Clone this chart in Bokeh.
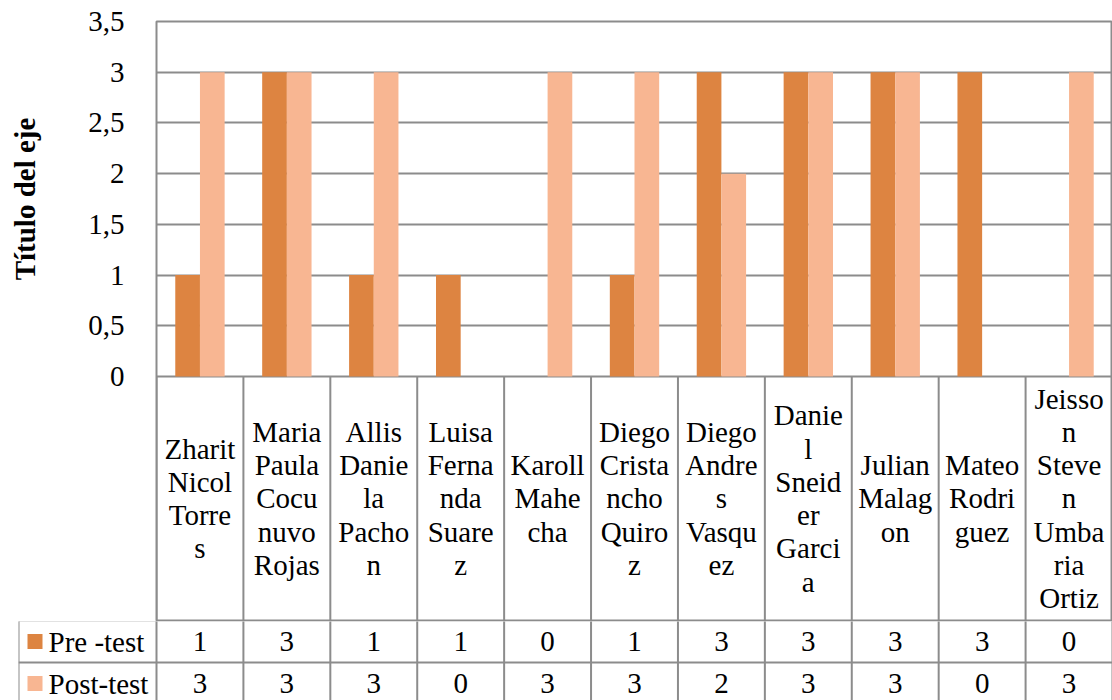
import math
from bokeh.plotting import figure
from bokeh.layouts import column, row
from bokeh.models import ColumnDataSource, FactorRange, Range1d, FixedTicker
from bokeh.transform import dodge
from bokeh.core.properties import value
from bokeh.embed import file_html
from bokeh.resources import INLINE

# ---------------- data ----------------
labels = [
    "Zharit\nNicol\nTorre\ns",
    "Maria\nPaula\nCocu\nnuvo\nRojas",
    "Allis\nDanie\nla\nPacho\nn",
    "Luisa\nFerna\nnda\nSuare\nz",
    "Karoll\nMahe\ncha",
    "Diego\nCrista\nncho\nQuiro\nz",
    "Diego\nAndre\ns\nVasqu\nez",
    "Danie\nl\nSneid\ner\nGarci\na",
    "Julian\nMalag\non",
    "Mateo\nRodri\nguez",
    "Jeisso\nn\nSteve\nn\nUmba\nria\nOrtiz",
]
pre_test = [1, 3, 1, 1, 0, 1, 3, 3, 3, 3, 0]
post_test = [3, 3, 3, 0, 3, 3, 2, 3, 3, 0, 3]
series_names = ["Pre -test", "Post-test"]
y_ticks = [0, 0.5, 1, 1.5, 2, 2.5, 3, 3.5]
y_title = "Título del eje"

# ---------------- style / layout constants ----------------
FONT = "Liberation Serif"
FS = "29px"
PRE_COLOR = "#DD8441"
POST_COLOR = "#F8B692"
LINE_COLOR = "#8C8C8C"
N = len(labels)
Y_MAX = 3.5
TITLE_W = 46                       # width of the axis-title strip (px)
LEFT_PX = 156                      # total left border (px)
PLOT_PX = 355                      # pixel height of the 0..3.5 value area
LABEL_PX = 244                     # pixel height of the category-label row
LABEL_U = LABEL_PX * Y_MAX / PLOT_PX   # same height in value units
CAT_PX = 956 / N                   # pixel width of one category
LEG_W = 138 / CAT_PX               # legend column width in category units
ROW_H = 42                         # value rows of the data table (pixels)

src = ColumnDataSource(dict(label=labels, pre=pre_test, post=post_test))

# ---------------- chart + category row ----------------
p = figure(width=1112 - TITLE_W, height=621, output_backend="svg",
           toolbar_location=None,
           x_range=FactorRange(*labels, range_padding=0),
           y_range=Range1d(-LABEL_U, Y_MAX), x_axis_location=None,
           min_border_left=LEFT_PX - TITLE_W, min_border_right=0,
           min_border_top=21, min_border_bottom=1, frame_align=False)
p.vbar(x=dodge("label", -0.142, range=p.x_range), top="pre", width=0.284,
       source=src, fill_color=PRE_COLOR, line_color=None)
p.vbar(x=dodge("label", 0.142, range=p.x_range), top="post", width=0.284,
       source=src, fill_color=POST_COLOR, line_color=None)

p.xgrid.grid_line_color = None
p.ygrid.grid_line_color = LINE_COLOR
p.ygrid.grid_line_width = 2
p.outline_line_color = LINE_COLOR
p.outline_line_width = 2
p.background_fill_color = "white"
p.border_fill_color = "white"

ya = p.yaxis[0]
ya.ticker = FixedTicker(ticks=y_ticks)
ya.major_label_overrides = {t: f"{t:g}".replace(".", ",") for t in y_ticks}
ya.axis_line_color = None
ya.major_tick_line_color = None
ya.minor_tick_line_color = None
ya.major_label_standoff = 26
ya.major_label_text_font = FONT
ya.major_label_text_font_size = FS
ya.major_label_text_color = "black"

# category cell separators (below the value axis)
bounds_x = list(range(N + 1))
p.segment(x0=bounds_x, y0=[0] * (N + 1), x1=bounds_x, y1=[-LABEL_U - 1] * (N + 1),
          line_color=LINE_COLOR, line_width=2)
xs = [i + 0.5 for i in range(N)]
p.text(x=xs, y=[-LABEL_U / 2] * N, text=labels, text_align="center",
       text_baseline="middle", text_font=value(FONT), text_font_size=FS,
       text_line_height=1.04, text_color="black")

# ---------------- axis-title strip (shares the value scale) ----------------
ttl = figure(width=TITLE_W, height=621, output_backend="svg",
             toolbar_location=None, x_range=Range1d(0, TITLE_W),
             y_range=p.y_range, x_axis_location=None, y_axis_location=None,
             min_border_left=0, min_border_right=0, min_border_top=21,
             min_border_bottom=1, frame_align=False)
ttl.grid.visible = False
ttl.outline_line_color = None
ttl.background_fill_color = "white"
ttl.border_fill_color = "white"
ttl.text(x=[24], y=[Y_MAX / 2], text=[y_title], angle=math.pi / 2,
         text_align="center", text_baseline="middle", text_font=value(FONT),
         text_font_size=FS, text_font_style="bold", text_color="black")

# ---------------- data table rows ----------------
t = figure(width=1112, height=79, output_backend="svg", toolbar_location=None,
           x_range=Range1d(-LEG_W, N), y_range=Range1d(80, 1),
           x_axis_location=None, y_axis_location=None,
           min_border_left=18, min_border_right=0, min_border_top=0,
           min_border_bottom=0, frame_align=False)
t.grid.visible = False
t.outline_line_color = None
t.background_fill_color = "white"
t.border_fill_color = "white"

row_mid = [ROW_H / 2, ROW_H * 1.5]
vx = [-LEG_W] + bounds_x
t.segment(x0=vx, y0=[-5] * len(vx), x1=vx, y1=[2 * ROW_H + 5] * len(vx),
          line_color=LINE_COLOR, line_width=2)
t.segment(x0=[-LEG_W, -LEG_W], y0=[0, ROW_H], x1=[N, N], y1=[0, ROW_H],
          line_color=LINE_COLOR, line_width=2)

t.text(x=xs, y=[row_mid[0]] * N, text=[str(v) for v in pre_test],
       text_align="center", text_baseline="middle", text_font=value(FONT),
       text_font_size=FS, text_color="black")
t.text(x=xs, y=[row_mid[1]] * N, text=[str(v) for v in post_test],
       text_align="center", text_baseline="middle", text_font=value(FONT),
       text_font_size=FS, text_color="black")

t.scatter(x=[-LEG_W + 16.5 / CAT_PX] * 2, y=row_mid,
          marker="square", size=15, fill_color=[PRE_COLOR, POST_COLOR],
          line_color=None)
t.text(x=[-LEG_W + 30 / CAT_PX] * 2, y=row_mid,
       text=series_names, text_align="left", text_baseline="middle",
       text_font=value(FONT), text_font_size=FS, text_color="black")

layout = column(row(ttl, p, spacing=0), t, spacing=0)
open("out.html", "w").write(file_html(layout, INLINE))
